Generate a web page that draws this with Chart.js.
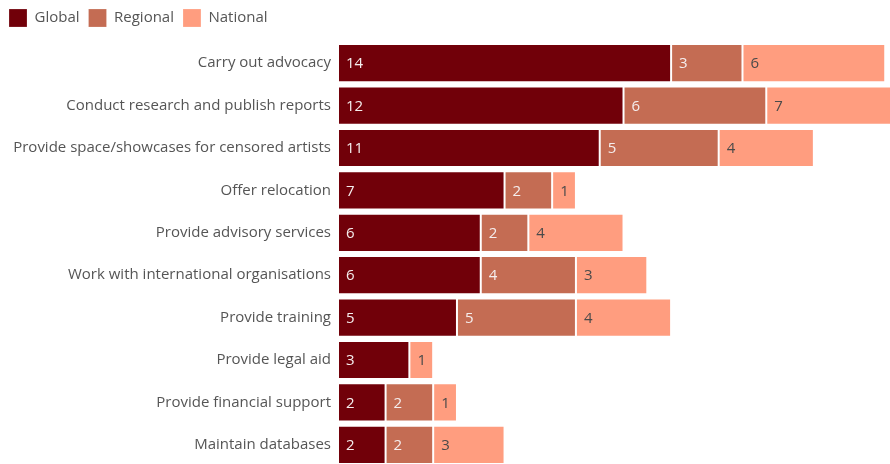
<!DOCTYPE html>
<html>
<head>
<meta charset="utf-8">
<script src="https://cdn.jsdelivr.net/npm/chart.js@4"></script>
<style>
  html, body { margin: 0; padding: 0; background: #fff; overflow: hidden; }
  #wrap { width: 890px; height: 482px; position: relative; }
</style>
</head>
<body>
<div id="wrap"><canvas id="grafico"></canvas></div>
<script>
const categorias = [
  'Carry out advocacy',
  'Conduct research and publish reports',
  'Provide space/showcases for censored artists',
  'Offer relocation',
  'Provide advisory services',
  'Work with international organisations',
  'Provide training',
  'Provide legal aid',
  'Provide financial support',
  'Maintain databases'
];
const global = [14, 12, 11, 7, 6, 6, 5, 3, 2, 2];
const regional = [3, 6, 5, 2, 2, 4, 5, 0, 2, 2];
const national = [6, 7, 4, 1, 4, 3, 4, 1, 1, 3];

const FONTE = "'Open Sans', 'Noto Sans', sans-serif";

// rótulos dentro das barras
const rotulosBarras = {
  id: 'rotulosBarras',
  afterDatasetsDraw(chart) {
    const ctx = chart.ctx;
    ctx.save();
    ctx.font = '15px ' + FONTE;
    ctx.textBaseline = 'middle';
    ctx.textAlign = 'left';
    chart.data.datasets.forEach((ds, i) => {
      const meta = chart.getDatasetMeta(i);
      meta.data.forEach((bar, j) => {
        const v = ds.data[j];
        if (!v) return;
        ctx.fillStyle = i === 2 ? '#4a4a4a' : '#f5eeee';
        ctx.fillText(String(v), bar.base + 8, bar.y + 1);
      });
    });
    ctx.restore();
  }
};

// um pouco mais de espaço abaixo da legenda
const espacoLegenda = {
  id: 'espacoLegenda',
  beforeInit(chart) {
    const fit = chart.legend.fit;
    chart.legend.fit = function () {
      fit.call(this);
      this.height += 5;
    };
  }
};

new Chart(document.getElementById('grafico'), {
  type: 'bar',
  data: {
    labels: categorias,
    datasets: [
      { label: 'Global', data: global, backgroundColor: '#710009' },
      { label: 'Regional', data: regional, backgroundColor: '#c46c53' },
      { label: 'National', data: national, backgroundColor: '#ff9d7f' }
    ].map(d => Object.assign(d, {
      borderColor: 'rgba(255,255,255,0.2)',
      borderWidth: 1,
      borderSkipped: false,
      barPercentage: 0.9,
      categoryPercentage: 1
    }))
  },
  options: {
    indexAxis: 'y',
    responsive: true,
    maintainAspectRatio: false,
    animation: false,
    layout: { padding: { left: 0, right: 0, top: 0, bottom: 0 } },
    plugins: {
      legend: {
        position: 'top',
        align: 'start',
        labels: {
          boxWidth: 18,
          boxHeight: 18,
          padding: 9,
          color: '#555555',
          font: { family: FONTE, size: 15 }
        }
      },
      tooltip: { enabled: false }
    },
    scales: {
      x: { stacked: true, display: false, min: 0, max: 23.2 },
      y: {
        stacked: true,
        grid: { display: false, drawTicks: false },
        border: { display: false },
        ticks: { color: '#555555', padding: 7, font: { family: FONTE, size: 15 } },
        afterFit(axis) { axis.width = 338; }
      }
    }
  },
  plugins: [rotulosBarras, espacoLegenda]
});
</script>
</body>
</html>
